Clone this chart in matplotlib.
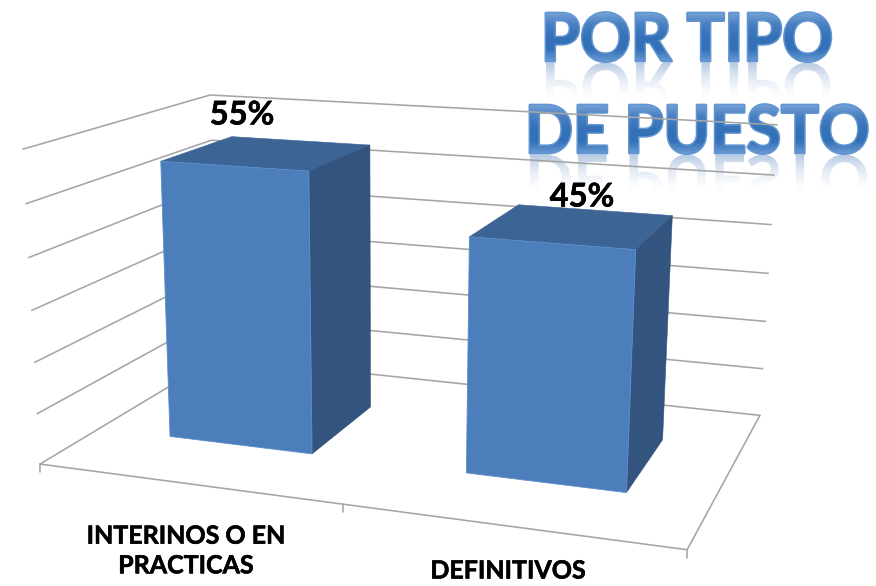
import numpy as np
import matplotlib
matplotlib.use('Agg')
import matplotlib.pyplot as plt
import matplotlib.patheffects as pe
from matplotlib.font_manager import FontProperties
from matplotlib.patches import PathPatch, Polygon
from matplotlib.textpath import TextPath
from matplotlib.transforms import Affine2D

# data
categories = ['INTERINOS O EN\nPRACTICAS', 'DEFINITIVOS']
values = [55, 45]
value_labels = ['55%', '45%']
grid_levels = [0, 10, 20, 30, 40, 50, 60]
title_lines = ['POR TIPO', 'DE PUESTO']

plt.rcParams['font.family'] = ['Lato', 'DejaVu Sans']

W, H = 876, 586
fig = plt.figure(figsize=(W / 100, H / 100), dpi=100)
ax = fig.add_axes([0, 0, 1, 1])
ax.set_xlim(0, W)
ax.set_ylim(H, 0)
ax.axis('off')

# %% fake 3D camera, calibrated on the corners of the chart box
# (u along categories, v depth, z value) -> picture pixels
box = [(0, 0, 0, 40, 464), (1, 0, 0, 687, 550), (1, 1, 0, 760, 415),
       (0, 1, 0, 217, 358), (0, 0, 60, 23, 149), (1, 1, 60, 777, 125),
       (0, 1, 60, 210, 95)]
rows, rhs = [], []
for u, v, z, x, y in box:
    rows.append([u, v, z, 1, 0, 0, 0, 0, -x * u, -x * v, -x * z])
    rhs.append(x)
    rows.append([0, 0, 0, 0, u, v, z, 1, -y * u, -y * v, -y * z])
    rhs.append(y)
cam = np.linalg.lstsq(np.array(rows, float), np.array(rhs, float), rcond=None)[0]
cam = np.append(cam, 1).reshape(3, 4)


def project(u, v, z):
    p = cam @ np.array([u, v, z, 1.0])
    return p[0] / p[2], p[1] / p[2]


# %% title, drawn first so that the grid lines pass over it
font = FontProperties(family='Lato', weight='bold')
title_px = 63
title_tall = 1.05


class TallStroke(pe.AbstractPathEffect):
    # stretches the glyphs upward from the baseline and fattens them
    def __init__(self, sy, lw, color):
        super().__init__()
        self.sy, self.lw, self.color = sy, lw, color

    def draw_path(self, renderer, gc, tpath, affine, rgbFace=None):
        gc0 = renderer.new_gc()
        gc0.copy_properties(gc)
        gc0.set_linewidth(self.lw)
        gc0.set_foreground(self.color)
        gc0.set_joinstyle('round')
        renderer.draw_path(gc0, tpath, Affine2D().scale(1, self.sy) + affine, rgbFace)
        gc0.restore()


def gradient(colors, alphas, n=64):
    pos = np.linspace(0, 1, n)
    xp = np.linspace(0, 1, len(colors))
    rgb = np.array([matplotlib.colors.to_rgb(c) for c in colors])
    img = np.zeros((n, 1, 4))
    for i in range(3):
        img[:, 0, i] = np.interp(pos, xp, rgb[:, i])
    img[:, 0, 3] = np.interp(pos, np.linspace(0, 1, len(alphas)), alphas)
    return img


def wordart(text, x0, baseline):
    ax.text(x0, baseline, text, fontproperties=font, fontsize=title_px * 0.72,
            color='#4f86c6', ha='left', va='baseline', zorder=1,
            path_effects=[TallStroke(title_tall, 2.2, '#6195d1')])
    path = TextPath((0, 0), text, size=title_px, prop=font)
    ext = path.get_extents()
    top = baseline - ext.y1 * title_tall
    # glossy fill
    to_px = Affine2D().scale(1, -title_tall).translate(x0, baseline) + ax.transData
    face = PathPatch(path, transform=to_px, facecolor='none', edgecolor='none', zorder=1.1)
    ax.add_patch(face)
    im = ax.imshow(gradient(['#79a6da', '#4a80c1', '#3572b8', '#3270b7', '#6a9bd4'], [1]),
                   extent=[x0 - 2, x0 + ext.x1 + 2, baseline + 1, top - 1],
                   aspect='auto', zorder=1.1, interpolation='bilinear')
    im.set_clip_path(face)
    # reflection below the letters
    to_ref = Affine2D().scale(1, title_tall).translate(x0, baseline + 2) + ax.transData
    mirror = PathPatch(path, transform=to_ref, facecolor='none', edgecolor='none', zorder=0.9)
    ax.add_patch(mirror)
    ref = ax.imshow(gradient(['#8aa9d0', '#afc6e2', '#dbe6f4'], [0.6, 0.3, 0.0]),
                    extent=[x0 - 2, x0 + ext.x1 + 2, baseline + 38, baseline + 2],
                    aspect='auto', zorder=0.9, interpolation='bilinear')
    ref.set_clip_path(mirror)


wordart(title_lines[0], 541, 61)
wordart(title_lines[1], 525, 153)
ax.set_xlim(0, W)
ax.set_ylim(H, 0)

# %% walls and floor
line_kw = dict(color='#a5a5a5', lw=1.15, zorder=2, solid_capstyle='round')
for level in grid_levels:
    xs, ys = zip(project(0, 0, level), project(0, 1, level), project(1, 1, level))
    ax.plot(xs, ys, **line_kw)
xs, ys = zip(project(0, 0, 0), project(1, 0, 0), project(1, 1, 0))
ax.plot(xs, ys, **line_kw)
for u in [0, 0.5, 1]:
    x, y = project(u, 0, 0)
    ax.plot([x, x], [y, y + 8], **line_kw)

# %% bars
bar_half = 0.1235
v_front, v_back = 0.30, 0.71
n = len(values)
for i, val in enumerate(values):
    uc = (i + 0.5) / n
    u0, u1 = uc - bar_half, uc + bar_half
    top = [project(u0, v_front, val), project(u1, v_front, val),
           project(u1, v_back, val), project(u0, v_back, val)]
    front = [project(u0, v_front, 0), project(u1, v_front, 0),
             project(u1, v_front, val), project(u0, v_front, val)]
    side = [project(u1, v_front, 0), project(u1, v_back, 0),
            project(u1, v_back, val), project(u1, v_front, val)]
    ax.add_patch(Polygon(top, closed=True, fc='#3c6595', ec='#3c6595', lw=0.4, zorder=3))
    ax.add_patch(Polygon(side, closed=True, fc='#32547e', ec='#32547e', lw=0.4, zorder=3))
    ax.add_patch(Polygon(front, closed=True, fc='#4d7ebc', ec='#5c8ecb', lw=0.6, zorder=3.1))

# %% text
bold = [pe.withStroke(linewidth=0.4, foreground='black')]
label_kw = dict(fontweight='bold', color='black', ha='center', zorder=5, path_effects=bold)
ax.text(242, 115, value_labels[0], fontsize=23.5, va='center', **label_kw)
ax.text(582, 197, value_labels[1], fontsize=23.5, va='center', **label_kw)
ax.text(186, 551, categories[0], fontsize=18, va='center', linespacing=1.35, **label_kw)
ax.text(508, 571, categories[1], fontsize=18, va='center', **label_kw)

fig.savefig('out.png', dpi=100)
